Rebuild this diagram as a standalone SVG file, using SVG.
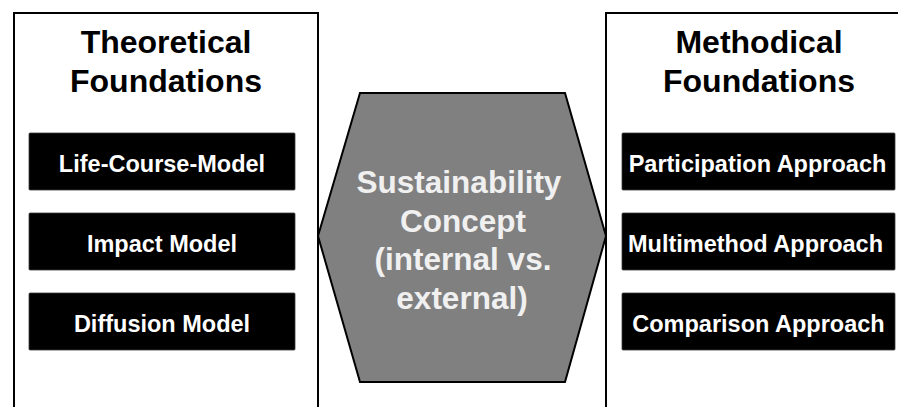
<svg xmlns="http://www.w3.org/2000/svg" width="898" height="407" viewBox="0 0 898 407">
<style>
.panel{fill:#ffffff;stroke:#000000;stroke-width:2}
.box{fill:#000000;stroke:#3a3a3a;stroke-width:0.8}
.title{font-family:"Liberation Sans",Arial,sans-serif;font-weight:bold;font-size:32px;fill:#000000;text-anchor:middle}
.lbl{font-family:"Liberation Sans",Arial,sans-serif;font-weight:bold;font-size:23.5px;fill:#ffffff;text-anchor:middle}
.hex{fill:#808080;stroke:#000000;stroke-width:2;stroke-linejoin:miter}
.htxt{font-family:"Liberation Sans",Arial,sans-serif;font-weight:bold;font-size:31.5px;fill:#f0f0f0;text-anchor:middle}
</style>
<rect width="898" height="407" fill="#ffffff"/>
<g id="theoretical-foundations">
<rect class="panel" x="14" y="13" width="304" height="410"/>
<text class="title" x="166" y="53">Theoretical</text>
<text class="title" x="166" y="92">Foundations</text>
</g>
<g id="life-course-model">
<rect class="box" x="29" y="133" width="266" height="57" rx="1"/>
<text class="lbl" x="162" y="172">Life-Course-Model</text>
</g>
<g id="impact-model">
<rect class="box" x="29" y="213" width="266" height="57" rx="1"/>
<text class="lbl" x="162" y="252">Impact Model</text>
</g>
<g id="diffusion-model">
<rect class="box" x="29" y="293" width="266" height="57" rx="1"/>
<text class="lbl" x="162" y="332">Diffusion Model</text>
</g>
<g id="methodical-foundations">
<rect class="panel" x="606" y="13" width="310" height="410"/>
<text class="title" x="759" y="53">Methodical</text>
<text class="title" x="759" y="92">Foundations</text>
</g>
<g id="participation-approach">
<rect class="box" x="622" y="133" width="273" height="57" rx="1"/>
<text class="lbl" x="757.5" y="172">Participation Approach</text>
</g>
<g id="multimethod-approach">
<rect class="box" x="622" y="213" width="273" height="57" rx="1"/>
<text class="lbl" x="755.5" y="252">Multimethod Approach</text>
</g>
<g id="comparison-approach">
<rect class="box" x="622" y="293" width="273" height="57" rx="1"/>
<text class="lbl" x="758.5" y="332">Comparison Approach</text>
</g>
<g id="sustainability-concept">
<polygon class="hex" points="360,93 565,93 606,236 565,382 360,382 318,236"/>
<text class="htxt" x="459" y="193">Sustainability</text>
<text class="htxt" x="463" y="231.5">Concept</text>
<text class="htxt" x="463" y="270">(internal vs.</text>
<text class="htxt" x="462" y="308.5">external)</text>
</g>
<g id="connectors"/>
</svg>
